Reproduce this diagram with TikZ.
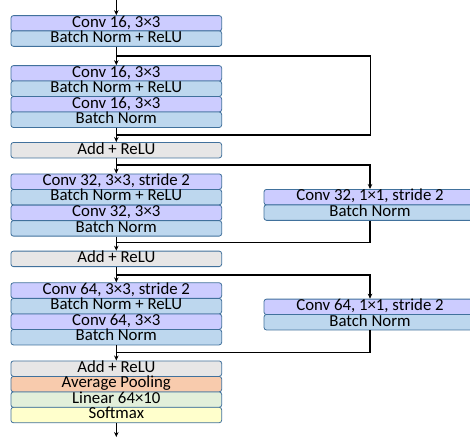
\documentclass[tikz,border=0pt]{standalone}
\usepackage{fontspec}
\setmainfont{Carlito}
\usetikzlibrary{arrows.meta}
\definecolor{bordc}{HTML}{41719C}
\definecolor{convc}{HTML}{CCCCFF}
\definecolor{bnc}{HTML}{BDD7EE}
\definecolor{addc}{HTML}{E7E6E6}
\definecolor{poolc}{HTML}{F8CBAD}
\definecolor{linc}{HTML}{E2EFDA}
\definecolor{softc}{HTML}{FFFFCC}
\tikzset{
  box/.style={draw=bordc, line width=0.8pt, rounded corners=2.5pt, minimum width=210.7pt,
    minimum height=15.5pt, inner sep=0pt, text height=11pt, text depth=3.4pt,
    font=\fontsize{16.8}{18}\selectfont},
  rbox/.style={box, minimum width=212pt},
  conv/.style={fill=convc}, bn/.style={fill=bnc}, addr/.style={fill=addc},
  pool/.style={fill=poolc}, lin/.style={fill=linc}, soft/.style={fill=softc},
  wire/.style={line width=1.4pt, black},
  arr/.style={wire, -{Stealth[length=5pt,width=4.5pt]}}
}
\begin{document}
\begin{tikzpicture}[x=1pt,y=-1pt]
\useasboundingbox (0,0) rectangle (470,440);
% left column
\node[box,conv] (c1) at (116.3,23.35) {Conv 16, 3×3};
\node[box,bn] (b1) at (116.3,38.6) {Batch Norm + ReLU};
\node[box,conv] (g2a) at (116.3,73.35) {Conv 16, 3×3};
\node[box,bn] (g2b) at (116.3,88.75) {Batch Norm + ReLU};
\node[box,conv] (g2c) at (116.3,104.25) {Conv 16, 3×3};
\node[box,bn] (g2d) at (116.3,119.75) {Batch Norm};
\node[box,addr] (add1) at (116.3,150.2) {Add + ReLU};
\node[box,conv] (g3a) at (116.3,181.65) {Conv 32, 3×3, stride 2};
\node[box,bn] (g3b) at (116.3,197.15) {Batch Norm + ReLU};
\node[box,conv] (g3c) at (116.3,212.85) {Conv 32, 3×3};
\node[box,bn] (g3d) at (116.3,228.35) {Batch Norm};
\node[box,addr] (add2) at (116.3,258.85) {Add + ReLU};
\node[box,conv] (g4a) at (116.3,290.5) {Conv 64, 3×3, stride 2};
\node[box,bn] (g4b) at (116.3,306.15) {Batch Norm + ReLU};
\node[box,conv] (g4c) at (116.3,321.65) {Conv 64, 3×3};
\node[box,bn] (g4d) at (116.3,337.15) {Batch Norm};
\node[box,addr] (add3) at (116.3,368.65) {Add + ReLU};
\node[box,pool] (pool) at (116.3,384.15) {Average Pooling};
\node[box,lin] (lin) at (116.3,399.65) {Linear 64×10};
\node[box,soft] (soft) at (116.3,415) {Softmax};
% right column
\node[rbox,conv] (r1) at (370,197.15) {Conv 32, 1×1, stride 2};
\node[rbox,bn] (r2) at (370,212.6) {Batch Norm};
\node[rbox,conv] (r3) at (370,306.85) {Conv 64, 1×1, stride 2};
\node[rbox,bn] (r4) at (370,322.2) {Batch Norm};
% coordinates
\coordinate (in) at (116.3,0);
\coordinate (out) at (116.3,437);
\coordinate (j1) at (116.3,56);
\coordinate (j1r) at (370.5,56);
\coordinate (j2r) at (370.5,135);
\coordinate (j2) at (116.3,135);
\coordinate (j3) at (116.3,165);
\coordinate (j4) at (116.3,242.7);
\coordinate (j5) at (116.3,275);
\coordinate (j6) at (116.3,352.3);
% connectors
\draw[arr] (in) -- (c1.north);
\draw[arr] (b1.south) -- (g2a.north);
\draw[wire] (j1) -- (j1r) -- (j2r) -- (j2);
\draw[arr] (g2d.south) -- (add1.north);
\draw[arr] (add1.south) -- (g3a.north);
\draw[arr] (j3) -| (r1.north);
\draw[wire] (r2.south) |- (j4);
\draw[arr] (g3d.south) -- (add2.north);
\draw[arr] (add2.south) -- (g4a.north);
\draw[arr] (j5) -| (r3.north);
\draw[wire] (r4.south) |- (j6);
\draw[arr] (g4d.south) -- (add3.north);
\draw[arr] (soft.south) -- (out);
\end{tikzpicture}
\end{document}
